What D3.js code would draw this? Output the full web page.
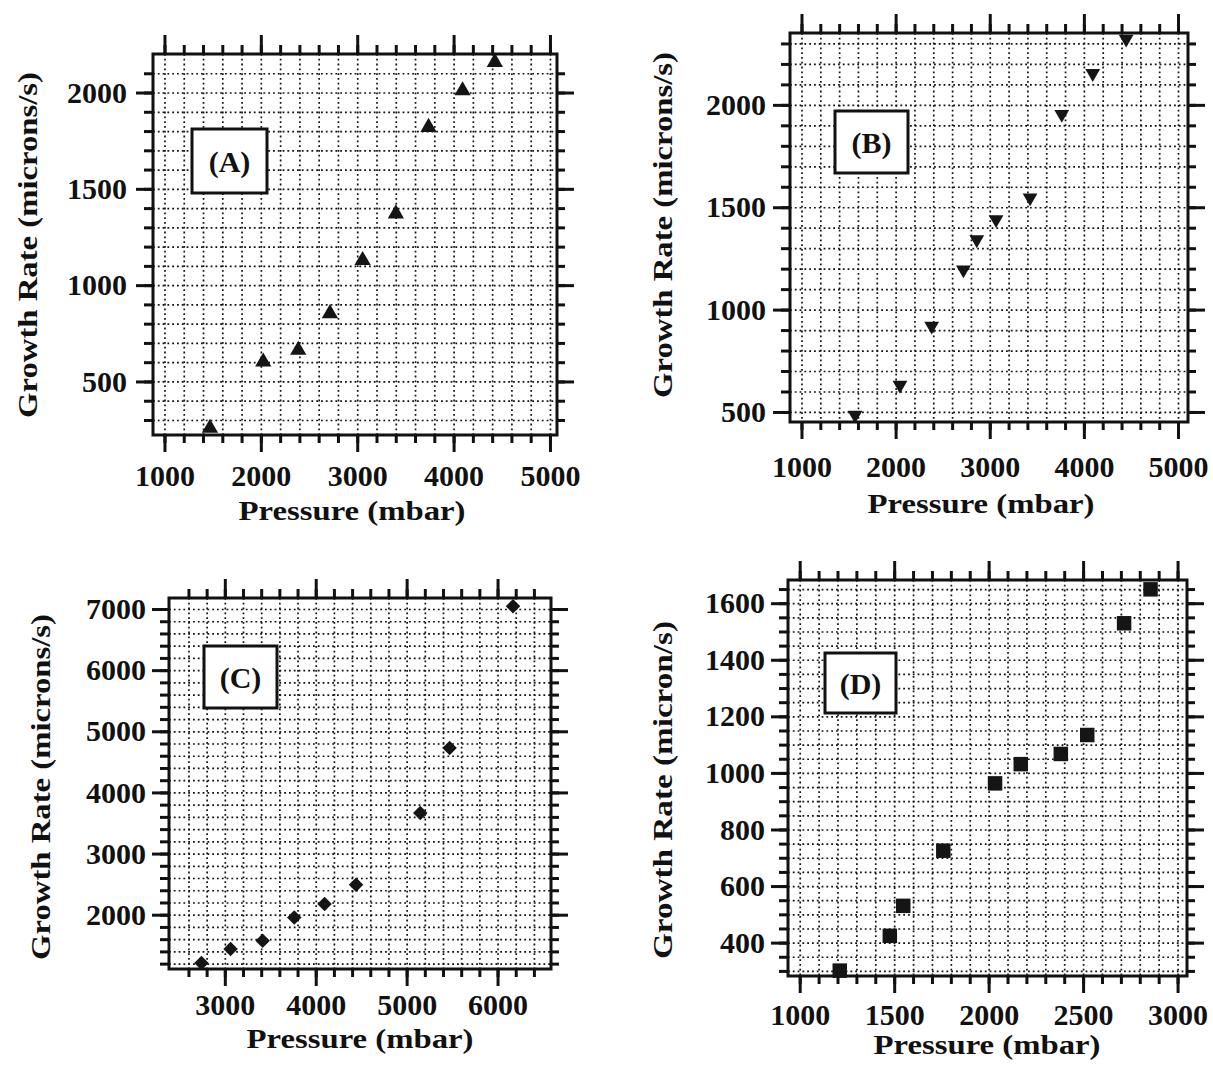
<!DOCTYPE html>
<html>
<head>
<meta charset="utf-8">
<script src="https://cdn.jsdelivr.net/npm/d3@7"></script>
<style>
  body { margin: 0; background: #fff; }
  svg { display: block; }
  text { font-family: "Liberation Serif", "Times New Roman", Times, serif; font-weight: bold; fill: #111; }
</style>
</head>
<body>
<svg id="chart" width="1213" height="1069"></svg>
<script>
// Panel A (up triangles)
const aPressure = [1472, 2025, 2388, 2717, 3056, 3401, 3740, 4093, 4428];
const aRate     = [258, 602, 663, 853, 1129, 1371, 1820, 2010, 2157];
// Panel B (down triangles)
const bPressure = [1569, 2046, 2383, 2720, 2862, 3067, 3428, 3765, 4094, 4449];
const bRate     = [485, 631, 920, 1195, 1342, 1440, 1546, 1954, 2154, 2322];
// Panel C (diamonds)
const cPressure = [2743, 3063, 3416, 3764, 4097, 4444, 5150, 5473, 6170];
const cRate     = [1210, 1439, 1574, 1956, 2175, 2491, 3664, 4728, 7046];
// Panel D (squares)
const dPressure = [1212, 1477, 1548, 1760, 2034, 2170, 2382, 2522, 2717, 2857];
const dRate     = [301, 424, 530, 725, 963, 1031, 1067, 1134, 1529, 1649];

// tick labels
const abXTicks = [1000, 2000, 3000, 4000, 5000];
const abYTicks = [500, 1000, 1500, 2000];
const cXTicks  = [3000, 4000, 5000, 6000];
const cYTicks  = [2000, 3000, 4000, 5000, 6000, 7000];
const dXTicks  = [1000, 1500, 2000, 2500, 3000];
const dYTicks  = [400, 600, 800, 1000, 1200, 1400, 1600];

const svg = d3.select('#chart');

const panels = [
  { tag: '(A)', xs: aPressure, ys: aRate, symbol: 'up',
    left: 153, top: 54, w: 404, h: 381,
    xDomain: [881, 5073], yDomain: [222, 2200], xStep: 200, yStep: 100,
    xTicks: abXTicks, yTicks: abYTicks,
    xPad: 13, yPad: 9, titleX: 352, titleY: 520, yTitleX: 37, yTitleY: 245,
    yTitle: 'Growth Rate (microns/s)', box: [39, 75, 75, 64] },
  { tag: '(B)', xs: bPressure, ys: bRate, symbol: 'down',
    left: 790, top: 33, w: 398, h: 389,
    xDomain: [878, 5106], yDomain: [451, 2351], xStep: 200, yStep: 100,
    xTicks: abXTicks, yTicks: abYTicks,
    xPad: 17, yPad: 7, titleX: 981, titleY: 513, yTitleX: 672, yTitleY: 225,
    yTitle: 'Growth Rate (microns/s)', box: [45, 78, 73, 62] },
  { tag: '(C)', xs: cPressure, ys: cRate, symbol: 'diamond',
    left: 169, top: 598, w: 382, h: 371,
    xDomain: [2386, 6588], yDomain: [1112, 7180], xStep: 200, yStep: 200,
    xTicks: cXTicks, yTicks: cYTicks,
    xPad: 8, yPad: 6, titleX: 360, titleY: 1048, yTitleX: 50, yTitleY: 787,
    yTitle: 'Growth Rate (microns/s)', box: [35, 48, 73, 62] },
  { tag: '(D)', xs: dPressure, ys: dRate, symbol: 'square',
    left: 788, top: 580, w: 399, h: 396,
    xDomain: [938, 3050], yDomain: [282, 1682], xStep: 100, yStep: 50,
    xTicks: dXTicks, yTicks: dYTicks,
    xPad: 11, yPad: 6, titleX: 987, titleY: 1054, yTitleX: 672, yTitleY: 790,
    yTitle: 'Growth Rate (micron/s)', box: [37, 73, 71, 60] }
];

function minorValues(scale, step) {
  const [d0, d1] = scale.domain();
  const gap = (d1 - d0) * 0.01;
  return d3.range(Math.ceil(d0 / step) * step, d1, step)
    .filter(v => v > d0 + gap && v < d1 - gap);
}

function styleTicks(sel) {
  sel.select('.domain').remove();
  sel.selectAll('.tick line').attr('stroke', '#111').attr('stroke-width', 3);
  sel.selectAll('.tick text').style('font-size', '30px').attr('fill', '#111');
}

function drawPanel(p) {
  const g = svg.append('g').attr('transform', `translate(${p.left},${p.top})`);
  const x = d3.scaleLinear().domain(p.xDomain).range([0, p.w]);
  const y = d3.scaleLinear().domain(p.yDomain).range([p.h, 0]);
  const xMinor = minorValues(x, p.xStep);
  const yMinor = minorValues(y, p.yStep);
  const fmt = d3.format('d');

  // dotted grid
  const gx = g.append('g').call(d3.axisBottom(x).tickValues(xMinor).tickSize(p.h).tickFormat(''));
  const gy = g.append('g').call(d3.axisRight(y).tickValues(yMinor).tickSize(p.w).tickFormat(''));
  [gx, gy].forEach(s => {
    s.select('.domain').remove();
    s.selectAll('.tick line').attr('stroke', '#111').attr('stroke-width', 1.7)
      .attr('stroke-dasharray', '1.8,3');
  });

  // ticks outside the frame, all four sides
  const none = () => '';
  g.append('g').attr('transform', `translate(0,${p.h})`)
    .call(d3.axisBottom(x).tickValues(xMinor).tickSize(8).tickFormat(none)).call(styleTicks);
  g.append('g').attr('transform', `translate(0,${p.h})`)
    .call(d3.axisBottom(x).tickValues(p.xTicks).tickSize(17).tickPadding(p.xPad).tickFormat(fmt)).call(styleTicks);
  g.append('g')
    .call(d3.axisTop(x).tickValues(xMinor).tickSize(9).tickFormat(none)).call(styleTicks);
  g.append('g')
    .call(d3.axisTop(x).tickValues(p.xTicks).tickSize(19).tickFormat(none)).call(styleTicks);
  g.append('g')
    .call(d3.axisLeft(y).tickValues(yMinor).tickSize(9).tickFormat(none)).call(styleTicks);
  g.append('g')
    .call(d3.axisLeft(y).tickValues(p.yTicks).tickSize(17).tickPadding(p.yPad).tickFormat(fmt)).call(styleTicks);
  g.append('g').attr('transform', `translate(${p.w},0)`)
    .call(d3.axisRight(y).tickValues(yMinor).tickSize(8).tickFormat(none)).call(styleTicks);
  g.append('g').attr('transform', `translate(${p.w},0)`)
    .call(d3.axisRight(y).tickValues(p.yTicks).tickSize(17).tickFormat(none)).call(styleTicks);

  // frame
  g.append('rect').attr('width', p.w).attr('height', p.h)
    .attr('fill', 'none').attr('stroke', '#111').attr('stroke-width', 3);

  // tag box
  const [bx, by, bw, bh] = p.box;
  g.append('rect').attr('x', bx).attr('y', by).attr('width', bw).attr('height', bh)
    .attr('fill', '#fff').attr('stroke', '#111').attr('stroke-width', 3);
  g.append('text').attr('x', bx + bw / 2).attr('y', by + bh / 2).attr('dy', '0.35em')
    .attr('text-anchor', 'middle').style('font-size', '30px').text(p.tag);

  // markers
  const shapes = {
    up:      d3.symbol().type(d3.symbolTriangle).size(115),
    down:    d3.symbol().type(d3.symbolTriangle).size(95),
    diamond: d3.symbol().type(d3.symbolSquare).size(105),
    square:  d3.symbol().type(d3.symbolSquare).size(210)
  };
  const rot = { up: 0, down: 180, diamond: 45, square: 0 };
  g.append('g').selectAll('path')
    .data(p.xs.map((v, i) => [v, p.ys[i]]))
    .join('path')
    .attr('d', shapes[p.symbol])
    .attr('fill', '#151515')
    .attr('transform', d => `translate(${x(d[0])},${y(d[1])}) rotate(${rot[p.symbol]})`);

  // axis titles
  svg.append('text').attr('x', p.titleX).attr('y', p.titleY)
    .attr('text-anchor', 'middle').style('font-size', '27px')
    .attr('textLength', 227).attr('lengthAdjust', 'spacingAndGlyphs')
    .text('Pressure (mbar)');
  svg.append('text')
    .attr('transform', `translate(${p.yTitleX},${p.yTitleY}) rotate(-90)`)
    .attr('text-anchor', 'middle').style('font-size', '28px')
    .attr('textLength', p.yTitle.length > 22 ? 346 : 338).attr('lengthAdjust', 'spacingAndGlyphs')
    .text(p.yTitle);
}

panels.forEach(drawPanel);
</script>
</body>
</html>
